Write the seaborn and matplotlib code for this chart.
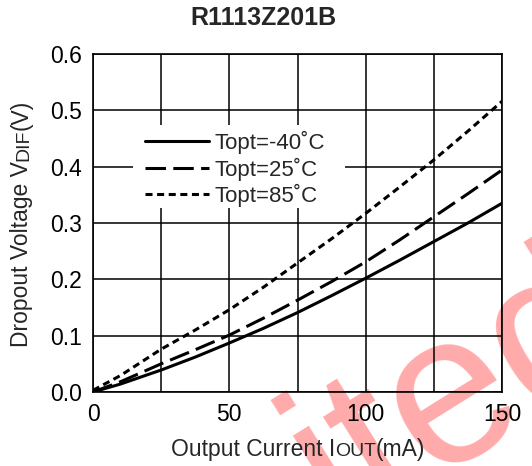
import numpy as np
import pandas as pd
import matplotlib
matplotlib.use("Agg")
import matplotlib.pyplot as plt
import seaborn as sns
from matplotlib.lines import Line2D
from matplotlib.patches import Rectangle

# ---- data ----
current_ma = [0, 10, 25, 37.5, 50, 62.5, 75, 87.5, 100, 112.5, 125, 137.5, 150]
v_m40 = [0.0, 0.014, 0.039, 0.062, 0.087, 0.113, 0.141, 0.171, 0.202, 0.234, 0.267, 0.300, 0.335]
v_25 = [0.0, 0.018, 0.050, 0.075, 0.101, 0.131, 0.163, 0.196, 0.231, 0.270, 0.311, 0.352, 0.394]
v_85 = [0.003, 0.029, 0.076, 0.110, 0.146, 0.186, 0.229, 0.272, 0.317, 0.364, 0.412, 0.463, 0.516]
labels = ["Topt=-40˚C", "Topt=25˚C", "Topt=85˚C"]
x_ticks = [0, 25, 50, 75, 100, 125, 150]
x_ticklabels = ["0", "", "50", "", "100", "", "150"]
y_ticks = [0.0, 0.1, 0.2, 0.3, 0.4, 0.5, 0.6]
y_ticklabels = ["0.0", "0.1", "0.2", "0.3", "0.4", "0.5", "0.6"]
title = "R1113Z201B"
watermark = "ited"

df = pd.concat([
    pd.DataFrame({"I": current_ma, "V": v, "T": lab})
    for v, lab in zip([v_m40, v_25, v_85], labels)
])

sns.set_style("white")
plt.rcParams["font.family"] = ["Liberation Sans", "DejaVu Sans"]

W, H = 532, 466
fig = plt.figure(figsize=(W / 100, H / 100), dpi=100)
fig.patch.set_facecolor("white")
ax = fig.add_axes([93 / W, 1 - 392 / H, (502 - 93) / W, (392 - 54) / H])
ax.patch.set_facecolor("none")

# watermark behind everything
fig.text(339 / W, 1 - 532 / H, watermark, fontsize=155, color="#ffabab",
         rotation=32, rotation_mode="anchor", ha="left", va="baseline", zorder=-10)

LW = 2.2
dash_map = {labels[0]: "", labels[1]: (6.7, 2.4), labels[2]: (2.3, 1.5)}
sns.lineplot(data=df, x="I", y="V", style="T", dashes=dash_map, color="black",
             linewidth=LW, legend=False, ax=ax, zorder=5)

ax.set_xlim(0, 150)
ax.set_ylim(0, 0.6)
ax.set_xticks(x_ticks)
ax.set_xticklabels(x_ticklabels)
ax.set_yticks(y_ticks)
ax.set_yticklabels(y_ticklabels)
ax.tick_params(length=0, labelsize=16.5, pad=8, colors="black")
ax.set_axisbelow(True)
ax.grid(True, color="black", linewidth=1.1)
for s in ax.spines.values():
    s.set_color("black")
    s.set_linewidth(1.2)
    s.set_visible(True)
ax.set_xlabel("")
ax.set_ylabel("")

# white legend background box
px_x = 150 / (502 - 93)
px_y = 0.6 / (392 - 54)
x0b = (133 - 93) * px_x
x1b = (345 - 93) * px_x
y0b = (392 - 208) * px_y
y1b = (392 - 125) * px_y
ax.add_patch(Rectangle((x0b, y0b), x1b - x0b, y1b - y0b, facecolor="white",
                       edgecolor="none", zorder=1))

handles = [Line2D([], [], color="black", lw=LW, ls="-"),
           Line2D([], [], color="black", lw=LW, ls=(0, dash_map[labels[1]])),
           Line2D([], [], color="black", lw=LW, ls=(0, dash_map[labels[2]]))]
leg = ax.legend(handles, labels, loc="upper left",
                bbox_to_anchor=((145 - 93) / (502 - 93), (392 - 131) / (392 - 54)),
                fontsize=16, frameon=False, handlelength=2.9, handletextpad=0.22,
                labelspacing=0.15, borderpad=0, borderaxespad=0)
leg.set_zorder(6)

fig.text(263 / W, 1 - 18 / H, title, fontsize=18, fontweight="bold",
         ha="center", va="center")

# axis labels with small-caps style subscripts
renderer = fig.canvas.get_renderer()

def multi_text(pieces, x0, y0, rotation):
    texts = []
    for s, fs in pieces:
        t = fig.text(0, 0, s, fontsize=fs, rotation=rotation, rotation_mode="anchor",
                     ha="left", va="baseline")
        texts.append(t)
    lengths = []
    for t in texts:
        bb = t.get_window_extent(renderer)
        lengths.append(bb.height if rotation == 90 else bb.width)
    total = sum(lengths)
    pos = -total / 2
    for t, L in zip(texts, lengths):
        if rotation == 90:
            t.set_position((x0 / W, (H - y0 + pos) / H))
        else:
            t.set_position(((x0 + pos) / W, 1 - y0 / H))
        pos += L

multi_text([("Output Current I", 16.5), ("OUT", 14), ("(mA)", 16.5)], 298, 456, 0)
multi_text([("Dropout Voltage V", 16.5), ("DIF", 14), ("(V)", 16.5)], 28, 223, 90)

fig.savefig("out.png", dpi=100, facecolor="white")
